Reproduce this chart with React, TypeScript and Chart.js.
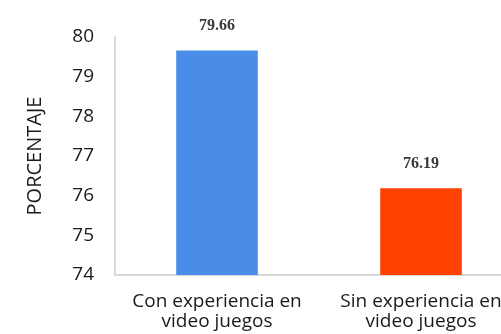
import React, { useEffect, useRef } from "react";
import { Chart, registerables } from "chart.js";

Chart.register(...registerables);

const categories: string[][] = [
  ["Con experiencia en", "video juegos"],
  ["Sin experiencia en", "video juegos"],
];
const values: number[] = [79.66, 76.19];
const valueLabels: string[] = ["79.66", "76.19"];
const barColors: string[] = ["#4A8DE8", "#FF4202"];
const yMin = 74;
const yMax = 80;
const yTitle = "PORCENTAJE";

const FONT = "'Open Sans', Lato, sans-serif";

const valueLabelPlugin = {
  id: "valueLabels",
  afterDatasetsDraw(chart: any) {
    const { ctx } = chart;
    const meta = chart.getDatasetMeta(0);
    ctx.save();
    ctx.font = "bold 16px 'Liberation Serif', 'DejaVu Serif', serif";
    ctx.fillStyle = "#3a3a3a";
    ctx.textAlign = "center";
    ctx.textBaseline = "alphabetic";
    meta.data.forEach((bar: any, i: number) => {
      ctx.fillText(valueLabels[i], bar.x, bar.y - 20);
    });
    ctx.restore();
  },
};

export default function App() {
  const ref = useRef<HTMLCanvasElement | null>(null);
  useEffect(() => {
    if (!ref.current) return;
    const chart = new Chart(ref.current, {
      type: "bar",
      data: {
        labels: categories,
        datasets: [
          {
            data: values,
            backgroundColor: barColors,
            borderWidth: 0,
            barPercentage: 0.4,
            categoryPercentage: 1,
          },
        ],
      },
      options: {
        animation: false,
        responsive: false,
        maintainAspectRatio: false,
        layout: { padding: { left: 23, right: 7, top: 37, bottom: 0 } },
        plugins: {
          legend: { display: false },
          tooltip: { enabled: false },
        },
        scales: {
          x: {
            grid: { display: false, drawTicks: false },
            border: { display: true, color: "#d9d9d9", width: 2 },
            ticks: {
              color: "#1a1a1a",
              font: { family: FONT, size: 19, lineHeight: 1.05 },
              padding: 17,
              maxRotation: 0,
              autoSkip: false,
            },
            afterFit(scale: any) {
              scale.height = 59;
            },
          },
          y: {
            min: yMin,
            max: yMax,
            grid: { display: true, drawOnChartArea: false, drawTicks: false },
            border: { display: true, color: "#d9d9d9", width: 2 },
            ticks: {
              stepSize: 1,
              color: "#1a1a1a",
              font: { family: FONT, size: 19 },
              padding: 21,
            },
            title: {
              display: true,
              text: yTitle,
              color: "#1a1a1a",
              font: { family: FONT, size: 20 },
              padding: 0,
            },
            afterFit(scale: any) {
              scale.width = 92;
            },
          },
        },
      },
      plugins: [valueLabelPlugin],
    });
    return () => chart.destroy();
  }, []);
  return (
    <div
      style={{
        position: "absolute",
        left: 0,
        top: 0,
        width: 501,
        height: 334,
        overflow: "hidden",
        background: "#ffffff",
      }}
    >
      <canvas ref={ref} width={530} height={334} style={{ width: 530, height: 334, display: "block" }} />
    </div>
  );
}
